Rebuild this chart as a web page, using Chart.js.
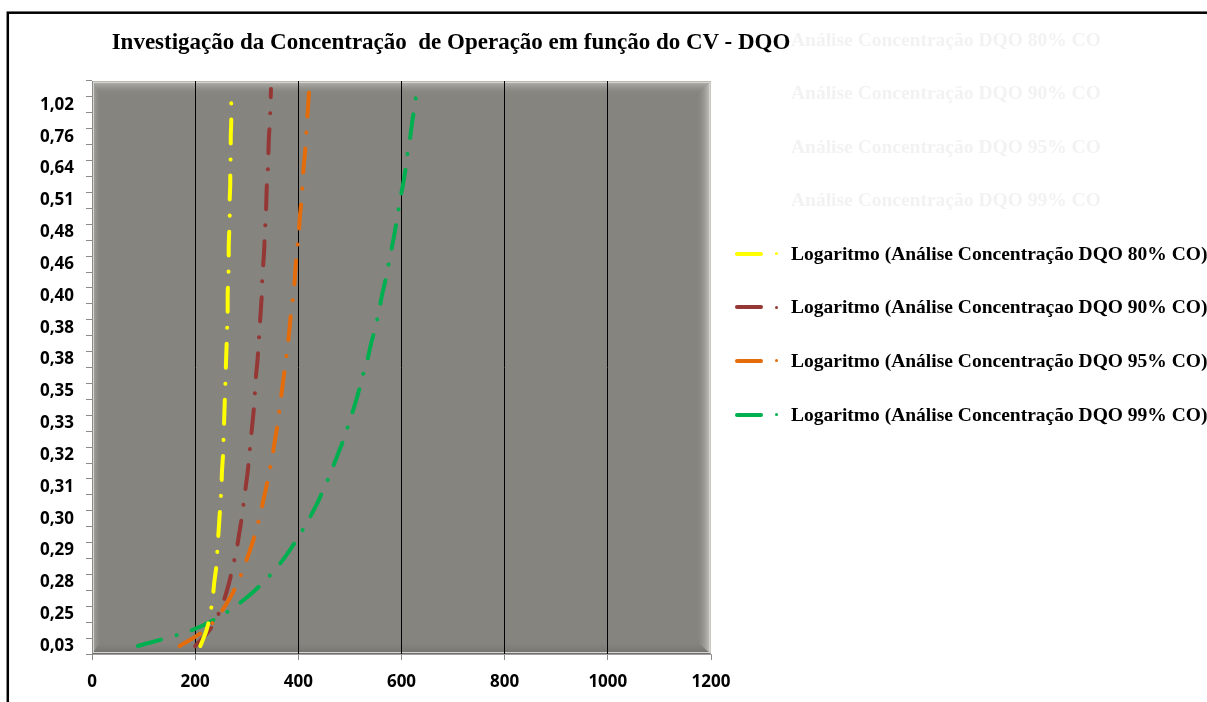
<!DOCTYPE html>
<html lang="pt">
<head>
<meta charset="utf-8">
<script src="https://cdn.jsdelivr.net/npm/chart.js@4.4.1/dist/chart.umd.min.js"></script>
<style>
  html, body { margin: 0; padding: 0; background: #fff; }
  #wrap { position: relative; width: 1207px; height: 702px; overflow: hidden; }
  #grafico { position: absolute; left: 0; top: 0; }
  .titulo { position: absolute; left: 0; top: 29px; width: 902px; text-align: center;
    font: bold 23px "Liberation Serif", serif; white-space: pre; color: #000; z-index: 3; }
  .leg { position: absolute; left: 733px; height: 24px; display: flex; align-items: center;
    white-space: nowrap; font: bold 19.5px "Liberation Serif", serif; color: #000; z-index: 2; }
  .leg .linha { width: 28px; height: 4px; border-radius: 2px; margin-left: 2px; margin-right: 12px; }
  .leg .ponto { width: 3px; height: 3px; border-radius: 2px; margin-right: 13px; }
  .leg.fraca { color: #f2f2f2; }
</style>
</head>
<body>
<div id="wrap">
  <canvas id="grafico" width="1207" height="702"></canvas>
  <div class="titulo">Investigação da Concentração  de Operação em função do CV - DQO</div>
  <div id="legenda"></div>
</div>
<script>
/* global Chart */
// eixo vertical: 36 categorias, o Excel so mostra o rotulo de uma sim, outra nao (de baixo pra cima)
const ROTULOS_Y = ['0,03','0,25','0,28','0,29','0,30','0,31','0,32','0,33','0,35',
                   '0,38','0,38','0,40','0,46','0,48','0,51','0,64','0,76','1,02'];
const CATEGORIAS = [];
ROTULOS_Y.forEach(r => CATEGORIAS.push(r, ''));

// linhas de tendencia, uma por categoria, de baixo pra cima
const CO_80 = [210,222,229,234,237,241,243,245,247,249,251,252,254,255,256,257,258,259,
               260,261,262,263,263,264,265,265,266,267,267,268,268,269,269,270,270,271];
const CO_90 = [200,228,245,257,266,273,280,285,290,294,298,302,305,308,311,314,316,318,
               321,323,325,327,329,330,332,334,335,337,338,339,341,342,343,345,346,347];
const CO_95 = [170,219,247,267,283,295,306,316,324,331,338,344,350,355,360,364,368,372,
               376,380,383,386,390,393,395,398,401,403,406,408,410,413,415,417,419,421];
const CO_99 = [89,194,255,298,332,360,383,403,421,437,451,464,476,488,498,508,517,525,
               534,541,549,556,562,569,575,581,587,592,597,603,608,612,617,621,626,630];

const SERIES = [
  { nome: 'Logaritmo (Análise Concentração DQO 80% CO)', dados: CO_80, cor: '#ffff00' },
  { nome: 'Logaritmo (Análise Concentraçao DQO 90% CO)', dados: CO_90, cor: '#953735' },
  { nome: 'Logaritmo (Análise Concentração DQO 95% CO)', dados: CO_95, cor: '#e46c0a' },
  { nome: 'Logaritmo (Análise Concentração DQO 99% CO)', dados: CO_99, cor: '#00b050' }
];
// entradas das barras (preenchimento branco, quase invisiveis)
const SERIES_BARRAS = ['Análise Concentração DQO 80% CO', 'Análise Concentração DQO 90% CO',
                       'Análise Concentração DQO 95% CO', 'Análise Concentração DQO 99% CO'];

const FONTE_EIXO = { family: '"Open Sans", sans-serif', size: 17, weight: 'bold' };

// fundo cinza com efeito de bisel da area de plotagem
const fundoBisel = {
  id: 'fundoBisel',
  beforeDraw(chart) {
    const { ctx, chartArea: a } = chart;
    const L = a.left, R = a.right, T = a.top, B = a.bottom;
    ctx.save();
    ctx.fillStyle = '#86847f';
    ctx.fillRect(L, T, R - L, B - T);
    const faixa = (pts, x0, y0, x1, y1, c0, c1) => {
      const g = ctx.createLinearGradient(x0, y0, x1, y1);
      g.addColorStop(0, c0); g.addColorStop(1, c1);
      ctx.fillStyle = g;
      ctx.beginPath();
      pts.forEach((p, i) => i ? ctx.lineTo(p[0], p[1]) : ctx.moveTo(p[0], p[1]));
      ctx.closePath(); ctx.fill();
    };
    const t = 14, l = 9, r = 15, b = 13;
    faixa([[L,B],[R,B],[R-r,B-b],[L+l,B-b]], 0, B, 0, B - b, '#6f6d69', 'rgba(134,132,127,0)');
    faixa([[L,T],[R,T],[R-r,T+t],[L+l,T+t]], 0, T, 0, T + t, '#bdbbb4', 'rgba(134,132,127,0)');
    faixa([[L,T],[L+l,T+t],[L+l,B-b],[L,B]], L, 0, L + l, 0, '#b3b1aa', 'rgba(134,132,127,0)');
    faixa([[R,T],[R-r,T+t],[R-r,B-b],[R,B]], R, 0, R - r, 0, '#cfcdc6', 'rgba(134,132,127,0)');
    ctx.strokeStyle = '#d6d4ce';
    ctx.lineWidth = 1;
    ctx.strokeRect(L + 1.5, T + 1.5, R - L - 3, B - T - 3);
    ctx.restore();
  }
};

// moldura preta do grafico
const moldura = {
  id: 'moldura',
  afterDraw(chart) {
    const ctx = chart.ctx;
    ctx.save();
    ctx.strokeStyle = '#000';
    ctx.lineWidth = 2.5;
    ctx.strokeRect(7.8, 12.7, 1400, 1000);
    ctx.restore();
  }
};

new Chart(document.getElementById('grafico'), {
  type: 'line',
  data: {
    labels: CATEGORIAS,
    datasets: SERIES.map(s => ({
      label: s.nome, data: s.dados,
      borderColor: s.cor, backgroundColor: s.cor,
      borderWidth: 4, borderDash: [24, 16, 0.1, 16], borderCapStyle: 'round',
      pointRadius: 0, fill: false, cubicInterpolationMode: 'monotone'
    }))
  },
  options: {
    indexAxis: 'y',
    responsive: false, animation: false,
    layout: { padding: { top: 81, right: 496, left: 0, bottom: 0 } },
    plugins: { legend: { display: false }, title: { display: false }, tooltip: { enabled: false } },
    scales: {
      x: {
        type: 'linear', min: 0, max: 1200,
        ticks: { stepSize: 200, font: FONTE_EIXO, color: '#000', padding: 12, callback: v => String(v) },
        grid: {
          color: c => (c.tick && (c.tick.value === 0 || c.tick.value === 1200)) ? 'rgba(0,0,0,0)' : '#000',
          lineWidth: 1, tickLength: 6, tickColor: '#8a8a8a'
        },
        border: { color: '#a0a0a0' },
        afterFit: s => { s.height = 48; }
      },
      y: {
        type: 'category', reverse: true, offset: true,
        ticks: { autoSkip: false, font: FONTE_EIXO, color: '#000', padding: 12 },
        grid: { drawOnChartArea: false, offset: true, tickLength: 6, color: '#8a8a8a' },
        border: { color: '#8a8a8a' },
        afterFit: s => { s.width = 92; }
      }
    }
  },
  plugins: [fundoBisel, moldura]
});

// legenda em html, posicionada como no Excel
const leg = document.getElementById('legenda');
SERIES_BARRAS.forEach((nome, i) => {
  const d = document.createElement('div');
  d.className = 'leg fraca';
  d.style.top = (28 + i * 53.4) + 'px';
  d.innerHTML = `<span class="linha"></span><span class="ponto"></span>${nome}`;
  leg.appendChild(d);
});
SERIES.forEach((s, i) => {
  const d = document.createElement('div');
  d.className = 'leg';
  d.style.top = (241.5 + i * 53.7) + 'px';
  d.innerHTML = `<span class="linha" style="background:${s.cor}"></span>` +
                `<span class="ponto" style="background:${s.cor}"></span>${s.nome}`;
  leg.appendChild(d);
});
</script>
</body>
</html>
